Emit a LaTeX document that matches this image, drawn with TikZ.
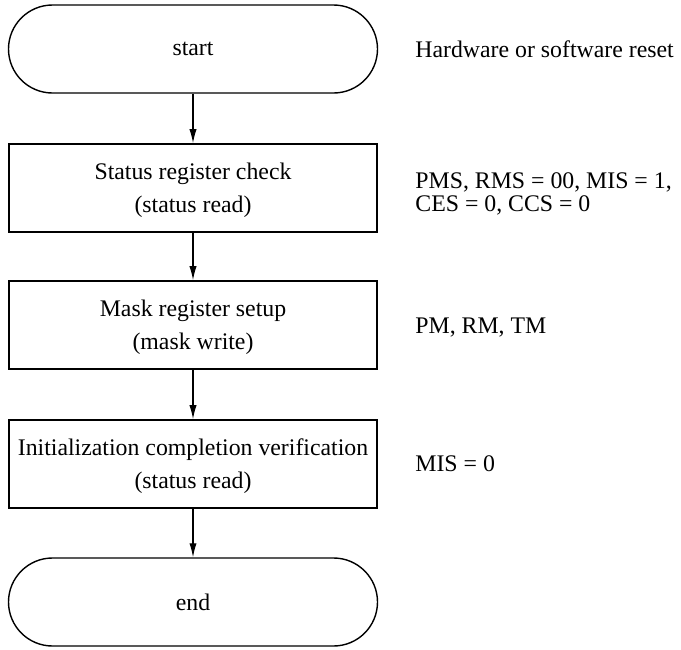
\documentclass[tikz,border=0pt]{standalone}
\usepackage{fontspec}
\setmainfont{Liberation Serif}
\usepackage{tikz}
\usetikzlibrary{shapes,positioning,arrows.meta}

\begin{document}
\begin{tikzpicture}[x=0.5pt,y=-0.5pt,
    terminal/.style={draw,line width=0.7pt,rounded corners=22pt,minimum width=184.5pt,minimum height=44pt,font=\fontsize{11.9}{16.5}\selectfont},
    process/.style={draw,line width=0.8pt,minimum width=184pt,minimum height=44pt,align=center,text depth=-5pt,font=\fontsize{11.9}{16.5}\selectfont},
    note/.style={anchor=west,align=left,inner sep=0pt,font=\fontsize{11.9}{11.5}\selectfont},
    flow/.style={-{Latex[length=7pt,width=3.6pt]},line width=0.6pt}]
  \useasboundingbox (0,0) rectangle (681,649);

  \node[terminal] (start)  at (193,49)  {start};
  \node[process]  (check)  at (193,188) {Status register check\\(status read)};
  \node[process]  (mask)   at (193,325) {Mask register setup\\(mask write)};
  \node[process]  (verify) at (193,464) {Initialization completion verification\\(status read)};
  \node[terminal] (stop)   at (193,602) {end};

  \node[note] (resetnote)  at (415,49)  {Hardware or software reset};
  \node[note] (statusnote) at (415,194) {PMS, RMS = 00, MIS = 1,\\CES = 0, CCS = 0};
  \node[note] (masknote)   at (415,328) {PM, RM, TM};
  \node[note] (misnote)    at (415,464) {MIS = 0};

  \draw[flow] (start)  -- (check);
  \draw[flow] (check)  -- (mask);
  \draw[flow] (mask)   -- (verify);
  \draw[flow] (verify) -- (stop);
\end{tikzpicture}
\end{document}
